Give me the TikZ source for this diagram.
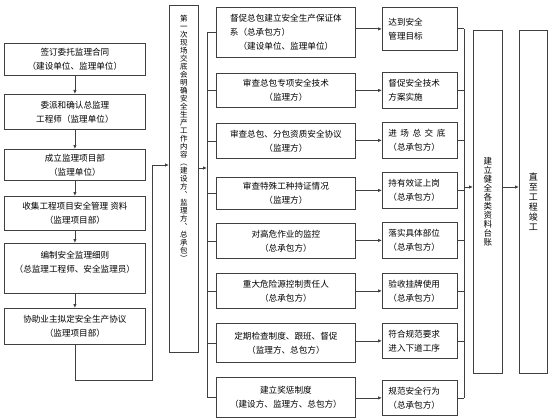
\documentclass[tikz,border=0pt]{standalone}
\usepackage{fontspec}
\setmainfont{Noto Sans CJK SC}
\usetikzlibrary{arrows.meta}

\begin{document}
\begin{tikzpicture}[x=1pt,y=-1pt,
    box/.style={draw=black!75,line width=0.8pt,inner sep=0pt,anchor=north west,
      align=center,font=\fontsize{8.6}{14}\selectfont},
    lbox/.style={box,minimum width=141pt},
    mbox/.style={box,minimum width=139pt},
    rbox/.style={box,align=left,text width=63pt,inner xsep=6pt},
    vtext/.style={align=center,inner sep=0pt},
    arr/.style={draw=black!75,line width=0.8pt,-{Latex[length=4pt,width=3.5pt]}}]
  \useasboundingbox (0,0) rectangle (560,420);

  % left column
  \node[lbox,minimum height=32pt] (l1) at (4,43) {签订委托监理合同\\（建设单位、监理单位）};
  \node[lbox,minimum height=35pt] (l2) at (4,94) {委派和确认总监理\\工程师（监理单位）};
  \node[lbox,minimum height=31pt] (l3) at (4,149) {成立监理项目部\\（监理单位）};
  \node[lbox,minimum height=34pt] (l4) at (4,196) {收集工程项目安全管理 资料\\（监理项目部）};
  \node[lbox,minimum height=50pt] (l5) at (4,243) {编制安全监理细则\\（总监理工程师、安全监理员）\\\mbox{}};
  \node[lbox,minimum height=36pt] (l6) at (4,308) {协助业主拟定安全生产协议\\（监理项目部）};

  % first briefing
  \node[box,minimum width=29pt,minimum height=347pt,
    label={[vtext,anchor=north,yshift=-10pt,font=\fontsize{7.5}{8}\selectfont]north:
      第\\一\\次\\现\\场\\交\\底\\会\\明\\确\\安\\全\\生\\产\\工\\作\\内\\容\\︵\\建\\设\\方\\︑\\监\\理\\方\\︑\\总\\承\\包\\︶}]
    (v1) at (169,5) {};

  % middle column
  \node[mbox,minimum height=50pt] (m1) at (216,7)
    {督促总包建立安全生产保证体\\\makebox[112pt][l]{系（总承包方）}\\（建设单位、监理单位）};
  \node[mbox,minimum height=34pt] (m2) at (216,73) {审查总包专项安全技术\\（监理方）};
  \node[mbox,minimum height=35pt] (m3) at (216,123) {审查总包、分包资质安全协议\\（监理方）};
  \node[mbox,minimum height=32pt] (m4) at (216,177) {审查特殊工种持证情况\\（监理方）};
  \node[mbox,minimum height=35pt] (m5) at (216,223) {对高危作业的监控\\（总承包方）};
  \node[mbox,minimum height=35pt] (m6) at (216,273) {重大危险源控制责任人\\（总承包方）};
  \node[mbox,minimum height=39pt] (m7) at (216,323) {定期检查制度、跟班、督促\\（监理方、总包方）};
  \node[mbox,minimum height=40pt] (m8) at (216,377) {建立奖惩制度\\（建设方、监理方、总包方）};

  % right column
  \node[rbox,minimum height=43pt] (r1) at (382,7) {达到安全\\管理目标};
  \node[rbox,minimum height=36pt] (r2) at (382,72) {督促安全技术\\方案实施};
  \node[rbox,minimum height=36pt] (r3) at (382,122)
    {进\hspace{3.5pt}场\hspace{3.5pt}总\hspace{3.5pt}交\hspace{3.5pt}底\\（总承包方）};
  \node[rbox,minimum height=36pt] (r4) at (382,172) {持有效证上岗\\（总承包方）};
  \node[rbox,minimum height=36pt] (r5) at (382,222) {落实具体部位\\（总承包方）};
  \node[rbox,minimum height=35pt] (r6) at (382,273) {验收挂牌使用\\（总承包方）};
  \node[rbox,minimum height=35pt] (r7) at (382,323) {符合规范要求\\进入下道工序};
  \node[rbox,minimum height=35pt] (r8) at (382,380) {规范安全行为\\（总承包方）};

  % last two steps
  \node[box,minimum width=29pt,minimum height=343pt,font=\fontsize{8.5}{9}\selectfont] (v2) at (473,30)
    {建\\立\\健\\全\\各\\类\\资\\料\\台\\账};
  \node[box,minimum width=28pt,minimum height=343pt,font=\fontsize{9}{10}\selectfont] (v3) at (519,30)
    {直\\至\\工\\程\\竣\\工};

  \coordinate (p1) at (152,380);
  \coordinate (p2) at (152,165);
  \coordinate (b1) at (207,168);
  \coordinate (b2) at (464,187);

  \begin{scope}[arr]
    \draw (l1) -- (l2);
    \draw (l2) -- (l3);
    \draw (l3) -- (l4);
    \draw (l4) -- (l5);
    \draw (l5) -- (l6);
    \draw (l6.south) |- (p1) -- (p2) -- (p2 -| v1.west);
    \draw (v1.east |- b1) -- (b1);
    \draw (m1.east |- r1.west) -- (r1.west);
    \draw (m2.east |- r2.west) -- (r2.west);
    \draw (m3.east |- r3.west) -- (r3.west);
    \draw (m4.east |- r4.west) -- (r4.west);
    \draw (m5.east |- r5.west) -- (r5.west);
    \draw (m6.east |- r6.west) -- (r6.west);
    \draw (m7.east |- r7.west) -- (r7.west);
    \draw (m8.east |- r8.west) -- (r8.west);
    \draw (b2) -- (b2 -| v2.west);
    \draw (v2.east |- b2) -- (b2 -| v3.west);
  \end{scope}

  \begin{scope}[draw=black!75,line width=0.8pt]
    \draw (m1.west -| b1) -- (m8.west -| b1);
    \draw (m1.west -| b1) -- (m1.west);
    \draw (m2.west -| b1) -- (m2.west);
    \draw (m3.west -| b1) -- (m3.west);
    \draw (m4.west -| b1) -- (m4.west);
    \draw (m5.west -| b1) -- (m5.west);
    \draw (m6.west -| b1) -- (m6.west);
    \draw (m7.west -| b1) -- (m7.west);
    \draw (m8.west -| b1) -- (m8.west);
    \draw (r1.east -| b2) -- (r8.east -| b2);
    \draw (r1.east) -- (r1.east -| b2);
    \draw (r2.east) -- (r2.east -| b2);
    \draw (r3.east) -- (r3.east -| b2);
    \draw (r4.east) -- (r4.east -| b2);
    \draw (r5.east) -- (r5.east -| b2);
    \draw (r6.east) -- (r6.east -| b2);
    \draw (r7.east) -- (r7.east -| b2);
    \draw (r8.east) -- (r8.east -| b2);
  \end{scope}
\end{tikzpicture}
\end{document}
